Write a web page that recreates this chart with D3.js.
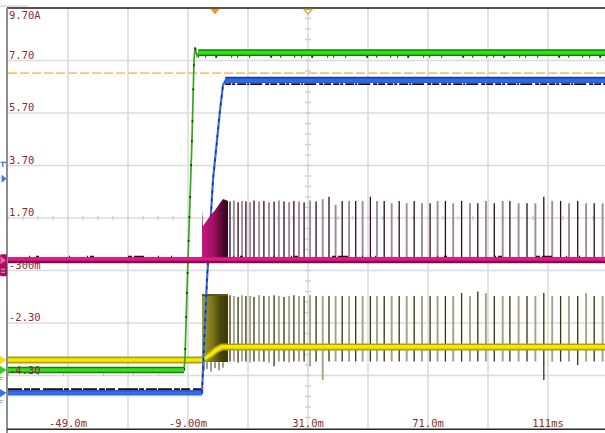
<!DOCTYPE html>
<html>
<head>
<meta charset="utf-8">
<script src="https://cdn.jsdelivr.net/npm/d3@7"></script>
<style>
  html, body { margin: 0; padding: 0; background: #fff; overflow: hidden; }
  svg { display: block; }
</style>
</head>
<body>
<svg id="scope" width="605" height="433"></svg>
<script>
// Axis annotations
const timeTicks   = [-49, -9, 31, 71, 111];
const timeLabels  = ["-49.0m", "-9.00m", "31.0m", "71.0m", "111ms"];
const levelTicks  = [9.70, 7.70, 5.70, 3.70, 1.70, -0.30, -2.30, -4.30];
const levelLabels = ["9.70A", "7.70", "5.70", "3.70", "1.70", "-300m", "-2.30", "-4.30"];

// Cursor / trigger settings
const cursorLevel  = 7.22;   // A
const triggerTime  = 0;      // ms
const centerTime   = 31;     // ms
const triggerLevel = 3.20;   // A

// Channel traces: [time ms, current A]
const greenTrace = [[-69, -4.09], [-10.33, -4.09], [-10.0, -3.63], [-9.33, -1.04], [-9.0, 0.10],
  [-8.33, 2.39], [-7.67, 4.67], [-7.33, 6.20], [-7.0, 7.72], [-6.67, 8.21], [-6.0, 7.87],
  [-5.33, 8.0], [131, 8.0]];
const greenLow  = [[-69, -4.09], [-10.33, -4.09]];
const greenHigh = [[-5.6, 8.0], [131, 8.0]];

const blueTrace = [[-69, -4.97], [-4.33, -4.97], [-3.67, -3.14], [-2.67, -0.66], [-1.67, 1.24],
  [-0.67, 3.15], [0.67, 4.67], [1.67, 5.81], [2.67, 6.77], [3.67, 6.96], [131, 6.96]];
const blueLow  = [[-69, -4.97], [-4.33, -4.97]];
const blueHigh = [[3.4, 6.96], [131, 6.96]];

const magentaBase = [[-69, 0.09], [131, 0.09]];
const magentaBurst = [[-4.33, 2.05], [-4.0, 1.40], [-3.33, 1.50], [-1.67, 1.78], [0, 2.0],
  [1.67, 2.27], [2.67, 2.42], [4.33, 2.35]];

const yellowTrace = [[-69, -3.71], [-4.33, -3.71], [-1.67, -3.52], [0.33, -3.33], [2.33, -3.21], [131, -3.21]];
const yellowBurst = [[-4.33, -1.20, -3.79], [4.33, -1.20, -3.79]];
const yellowBurstDips = [[-3.67, -4.12], [-2.67, -4.05], [-1.33, -4.15], [0, -4.02], [1.33, -4.10], [2.67, -4.0]];

// Switching pulses after the step
const spikeTimes = [5.0, 6.3, 7.7, 9.0, 10.3, 11.7, 13.0, 14.7, 16.3, 18.0, 19.7, 21.3, 23.0, 24.7,
  26.3, 28.0, 29.7, 31.7, 33.7, 35.9, 38.0, 40.2, 42.4, 44.7, 46.9, 49.2, 51.8, 54.0, 56.4, 58.9,
  61.4, 63.9, 66.4, 69.0, 71.7, 74.2, 76.8, 79.4, 82.2, 85.0, 87.6, 90.3, 93.1, 95.9, 98.3, 101.2,
  104.0, 106.8, 109.6, 112.4, 115.2, 118.0, 120.9, 123.7, 126.4, 129.2];
const magentaPeaks = [2.33, 2.37, 2.30, 2.35, 2.33, 2.30, 2.37, 2.33, 2.35, 2.30, 2.33, 2.37, 2.33,
  2.30, 2.35, 2.33, 2.30, 2.37, 2.33,
  2.42, 2.51, 2.20, 2.35, 2.35, 2.35, 2.35, 2.51, 2.35, 2.35, 2.26, 2.35, 2.26, 2.35, 2.26, 2.26,
  2.35, 2.35, 2.26,
  2.35, 2.26, 2.26, 2.35, 2.26, 2.35, 2.35, 2.26, 2.26, 2.26, 2.51, 2.35, 2.35, 2.26, 2.35, 2.26,
  2.26, 2.26];
const yellowTops = [-1.24, -1.27, -1.31, -1.24, -1.27, -1.27, -1.31, -1.24, -1.27, -1.27, -1.24,
  -1.27, -1.31, -1.27, -1.24, -1.27, -1.27, -1.24, -1.27,
  -1.27, -1.27, -1.27, -1.27, -1.27, -1.27, -1.27, -1.27, -1.27, -1.27, -1.27, -1.27, -1.27,
  -1.27, -1.27, -1.27, -1.27, -1.27, -1.27,
  -1.16, -1.27, -1.10, -1.16, -1.27, -1.27, -1.27, -1.27, -1.27, -1.27, -1.16, -1.27, -1.27,
  -1.27, -1.27, -1.16, -1.27, -1.27];
const yellowBottoms = [-3.77, -3.77, -3.80, -3.77, -3.77, -3.80, -3.77, -3.77, -3.77, -3.80, -3.95,
  -3.77, -3.77, -3.80, -3.77, -3.77, -3.77, -3.95, -3.77,
  -4.47, -3.77, -3.77, -3.77, -3.77, -3.77, -3.77, -3.77, -3.77, -3.77, -3.77, -3.77, -3.77,
  -3.77, -3.77, -3.77, -3.77, -3.77, -3.77,
  -3.77, -3.77, -3.77, -3.77, -3.77, -3.77, -3.77, -3.77, -3.77, -3.77, -4.47, -3.77, -3.77,
  -3.77, -3.90, -3.77, -3.77, -3.77];

const svg = d3.select("#scope");
const x = d3.scaleLinear().domain([-69, 131]).range([8, 608]);
const y = d3.scaleLinear().domain([-6.30, 9.70]).range([428, 8]);
const line = d3.line().x(d => x(d[0])).y(d => y(d[1]));

// Gradients for the burst regions
const defs = svg.append("defs");
function hGradient(id, stops) {
  const g = defs.append("linearGradient").attr("id", id)
    .attr("x1", 0).attr("x2", 1).attr("y1", 0).attr("y2", 0);
  stops.forEach(([o, c]) => g.append("stop").attr("offset", o).attr("stop-color", c));
}
hGradient("burstM", [[0, "#c8167e"], [0.45, "#a01064"], [0.75, "#560a34"], [1, "#2c0619"]]);
hGradient("burstY", [[0, "#a09a2a"], [0.4, "#7c7618"], [0.7, "#4a460c"], [1, "#3a3608"]]);

// Graticule
const grid = svg.append("g");
grid.selectAll("line.v").data(d3.range(-49, 131, 20)).join("line")
  .attr("x1", d => x(d)).attr("x2", d => x(d)).attr("y1", y(9.70)).attr("y2", y(-6.30))
  .attr("stroke", "#dcdcdc").attr("stroke-width", 1.6);
grid.selectAll("line.h").data(d3.range(-4.30, 9.0, 2)).join("line")
  .attr("x1", x(-69)).attr("x2", 605).attr("y1", d => y(d)).attr("y2", d => y(d))
  .attr("stroke", "#dcdcdc").attr("stroke-width", 1.6);
// minor ticks along the centre lines
grid.selectAll("line.mx").data(d3.range(-69, 131, 5)).join("line")
  .attr("x1", d => x(d)).attr("x2", d => x(d)).attr("y1", y(1.70) - 2).attr("y2", y(1.70) + 2)
  .attr("stroke", "#cfcfcf").attr("stroke-width", 1.4);
grid.selectAll("line.my").data(d3.range(-6.30, 9.70, 0.4)).join("line")
  .attr("x1", x(31) - 3).attr("x2", x(31) + 3).attr("y1", d => y(d)).attr("y2", d => y(d))
  .attr("stroke", "#cfcfcf").attr("stroke-width", 1.4);

// Frame
svg.append("line").attr("x1", 0).attr("x2", 28).attr("y1", 6).attr("y2", 6)
  .attr("stroke", "#c4c4c4").attr("stroke-width", 1);
svg.append("line").attr("x1", 7).attr("x2", 605).attr("y1", y(9.70)).attr("y2", y(9.70))
  .attr("stroke", "#1a1a1a").attr("stroke-width", 1.6);
svg.append("line").attr("x1", 7).attr("x2", 7).attr("y1", y(9.70)).attr("y2", 433)
  .attr("stroke", "#8e8e8e").attr("stroke-width", 2);
svg.append("line").attr("x1", 7).attr("x2", 605).attr("y1", 429.2).attr("y2", 429.2)
  .attr("stroke", "#2a2a2a").attr("stroke-width", 1.5);

// Cursor line
svg.append("line").attr("x1", x(-69)).attr("x2", 605)
  .attr("y1", y(cursorLevel)).attr("y2", y(cursorLevel))
  .attr("stroke", "#f6c27c").attr("stroke-width", 1.8).attr("stroke-dasharray", "9 3");

// ---- Yellow channel ----
const yl = svg.append("g");
yl.append("path").datum(yellowBurst)
  .attr("d", d3.area().x(d => x(d[0])).y0(d => y(d[2])).y1(d => y(d[1])))
  .attr("fill", "url(#burstY)");
yl.append("line").attr("x1", x(yellowBurst[0][0])).attr("x2", x(yellowBurst[1][0]))
  .attr("y1", y(yellowBurst[0][1]) + 1).attr("y2", y(yellowBurst[0][1]) + 1)
  .attr("stroke", "#5c560e").attr("stroke-width", 2);
yl.selectAll("line.dip").data(yellowBurstDips).join("line")
  .attr("x1", d => x(d[0])).attr("x2", d => x(d[0]))
  .attr("y1", y(-3.79)).attr("y2", d => y(d[1]))
  .attr("stroke", "#3a3a20").attr("stroke-width", 1);
yl.selectAll("line.sp").data(spikeTimes).join("line")
  .attr("x1", d => x(d)).attr("x2", d => x(d))
  .attr("y1", (d, i) => y(yellowTops[i])).attr("y2", (d, i) => y(yellowBottoms[i]))
  .attr("stroke", (d, i) => i % 2 ? "#a4a286" : "#34340e")
  .attr("stroke-width", (d, i) => i % 2 ? 1.9 : 1.3);
yl.append("path").datum(yellowTrace).attr("d", line)
  .attr("fill", "none").attr("stroke", "#aca20c").attr("stroke-width", 7);
yl.append("path").datum(yellowTrace).attr("d", line)
  .attr("fill", "none").attr("stroke", "#f4e80a").attr("stroke-width", 3.6);

// ---- Green channel ----
const gr = svg.append("g");
gr.append("path").datum(greenTrace).attr("d", line)
  .attr("fill", "none").attr("stroke", "#36a81c").attr("stroke-width", 1.7);
gr.append("path").datum(greenTrace).attr("d", line)
  .attr("fill", "none").attr("stroke", "#0e3a06").attr("stroke-width", 1.7)
  .attr("stroke-dasharray", "2 22 2 18 2 30");
[greenLow, greenHigh].forEach(seg => {
  gr.append("path").datum(seg).attr("d", line)
    .attr("fill", "none").attr("stroke", "#1c7a0c").attr("stroke-width", 6.6);
  gr.append("path").datum(seg).attr("d", line)
    .attr("fill", "none").attr("stroke", "#30e21a").attr("stroke-width", 3.6);
});
gr.append("path").datum(greenHigh).attr("d", line).attr("transform", "translate(0,4.3)")
  .attr("fill", "none").attr("stroke", "#1e2a1a").attr("stroke-width", 1.8)
  .attr("stroke-dasharray", "1 6 1 9 2 14 1 5 1 11 1 20 2 8 1 13");
gr.append("path").datum(greenLow).attr("d", line).attr("transform", "translate(0,4.6)")
  .attr("fill", "none").attr("stroke", "#9a9a9a").attr("stroke-width", 1.3)
  .attr("stroke-dasharray", "1 29 1 24 1 39");

// ---- Blue channel ----
const bl = svg.append("g");
bl.append("path").datum(blueLow).attr("d", line).attr("transform", "translate(0,-3.6)")
  .attr("fill", "none").attr("stroke", "#101018").attr("stroke-width", 2.6)
  .attr("stroke-dasharray", "14 2 6 1 9 3 20 1 5 2 11 1");
bl.append("path").datum(blueLow).attr("d", line)
  .attr("fill", "none").attr("stroke", "#9ab4f0").attr("stroke-width", 6.4);
bl.append("path").datum(blueLow).attr("d", line).attr("transform", "translate(0,-0.6)")
  .attr("fill", "none").attr("stroke", "#2a5ee2").attr("stroke-width", 4.8);
bl.append("path").datum(blueTrace).attr("d", line)
  .attr("fill", "none").attr("stroke", "#3a6ee6").attr("stroke-width", 2.2);
bl.append("path").datum(blueTrace.slice(1, 10)).attr("d", line)
  .attr("fill", "none").attr("stroke", "#12235a").attr("stroke-width", 1.2)
  .attr("stroke-dasharray", "3 5");
bl.append("path").datum(blueHigh).attr("d", line)
  .attr("fill", "none").attr("stroke", "#1c3ea8").attr("stroke-width", 6.2);
bl.append("path").datum(blueHigh).attr("d", line).attr("transform", "translate(0,0.6)")
  .attr("fill", "none").attr("stroke", "#3068ea").attr("stroke-width", 4.2);
bl.append("path").datum(blueHigh).attr("d", line).attr("transform", "translate(0,4.2)")
  .attr("fill", "none").attr("stroke", "#0c1224").attr("stroke-width", 1.8)
  .attr("stroke-dasharray", "6 1 3 2 9 1 2 1 12 3 4 1 7 2");

// ---- Magenta channel ----
const mg = svg.append("g");
mg.append("path").datum(magentaBurst)
  .attr("d", d3.area().x(d => x(d[0])).y0(y(0.09)).y1(d => y(d[1])))
  .attr("fill", "url(#burstM)");
mg.selectAll("line.sp").data(spikeTimes).join("line")
  .attr("x1", d => x(d)).attr("x2", d => x(d))
  .attr("y1", y(0.09)).attr("y2", (d, i) => y(magentaPeaks[i]))
  .attr("stroke", (d, i) => i % 2 ? "#a08a98" : "#2e0c22")
  .attr("stroke-width", (d, i) => i % 2 ? 1.9 : 1.3);
mg.append("path").datum(magentaBase).attr("d", line).attr("transform", "translate(0,-3.6)")
  .attr("fill", "none").attr("stroke", "#2a1020").attr("stroke-width", 2)
  .attr("stroke-dasharray", "0 21 1 6 3 30 1 17 1 2 4 34 4 2 10 14 1 12 1 40");
mg.append("path").datum(magentaBase).attr("d", line)
  .attr("fill", "none").attr("stroke", "#84084a").attr("stroke-width", 6);
mg.append("path").datum(magentaBase).attr("d", line).attr("transform", "translate(0,-1.2)")
  .attr("fill", "none").attr("stroke", "#e8168c").attr("stroke-width", 3.6);

// ---- Trigger / position markers ----
const tx = x(triggerTime), cx = x(centerTime);
svg.append("path").attr("d", `M${tx - 4.5},9 L${tx + 4.5},9 L${tx},14.5 Z`).attr("fill", "#f39a1a");
svg.append("path").attr("d", `M${cx - 4},9.3 L${cx + 4},9.3 L${cx},14 Z`)
  .attr("fill", "#fff").attr("stroke", "#f0a030").attr("stroke-width", 1.3);

const ty = y(triggerLevel);
svg.append("path").attr("d", "M0.5,162.4 H6.5 M2.8,162.4 V167")
  .attr("stroke", "#3a7ae8").attr("stroke-width", 1.3).attr("fill", "none");
svg.append("path").attr("d", `M1.6,${ty - 4} L1.6,${ty + 4} L6.6,${ty} Z`).attr("fill", "#3a7ae8");

const my = y(0.09);
svg.append("rect").attr("x", 0).attr("y", my - 6).attr("width", 7).attr("height", 22)
  .attr("rx", 1.5).attr("fill", "#a8125c");
svg.append("path").attr("d", `M0.5,${my - 4} L0.5,${my + 4} L6,${my} Z`).attr("fill", "#ff5cb4");
svg.append("path").attr("d", `M1,${my + 9} H5 M1,${my + 12} H5`)
  .attr("stroke", "#f6a6d0").attr("stroke-width", 1);

function chanMarker(level, fill, extra) {
  const yy = y(level);
  svg.append("path").attr("d", `M0,${yy - 4.2} L0,${yy + 4.2} L6.6,${yy} Z`).attr("fill", fill);
  if (extra) svg.append("path").attr("d", `M0,${yy + 7.5} H3.5 M0,${yy + 9.5} H2.5`)
    .attr("stroke", extra).attr("stroke-width", 1);
}
chanMarker(-3.71, "#efe012");
chanMarker(-4.09, "#2ed21e", "#5ad84a");
chanMarker(-4.97, "#3a70e8", "#8eb0f2");

// ---- Labels ----
const font = "'DejaVu Sans Mono', 'Liberation Mono', monospace";
svg.append("g").selectAll("text").data(levelTicks).join("text")
  .attr("x", 9)
  .attr("y", (d, i) => i === 0 ? y(d) + 10.5 : y(d) - 1.8)
  .attr("fill", "#8c2c2c").attr("font-family", font).attr("font-size", 10.5)
  .text((d, i) => levelLabels[i]);
svg.append("g").selectAll("text").data(timeTicks).join("text")
  .attr("x", d => x(d)).attr("y", 427)
  .attr("text-anchor", "middle")
  .attr("fill", "#8c2c2c").attr("font-family", font).attr("font-size", 10.5)
  .text((d, i) => timeLabels[i]);
</script>
</body>
</html>
